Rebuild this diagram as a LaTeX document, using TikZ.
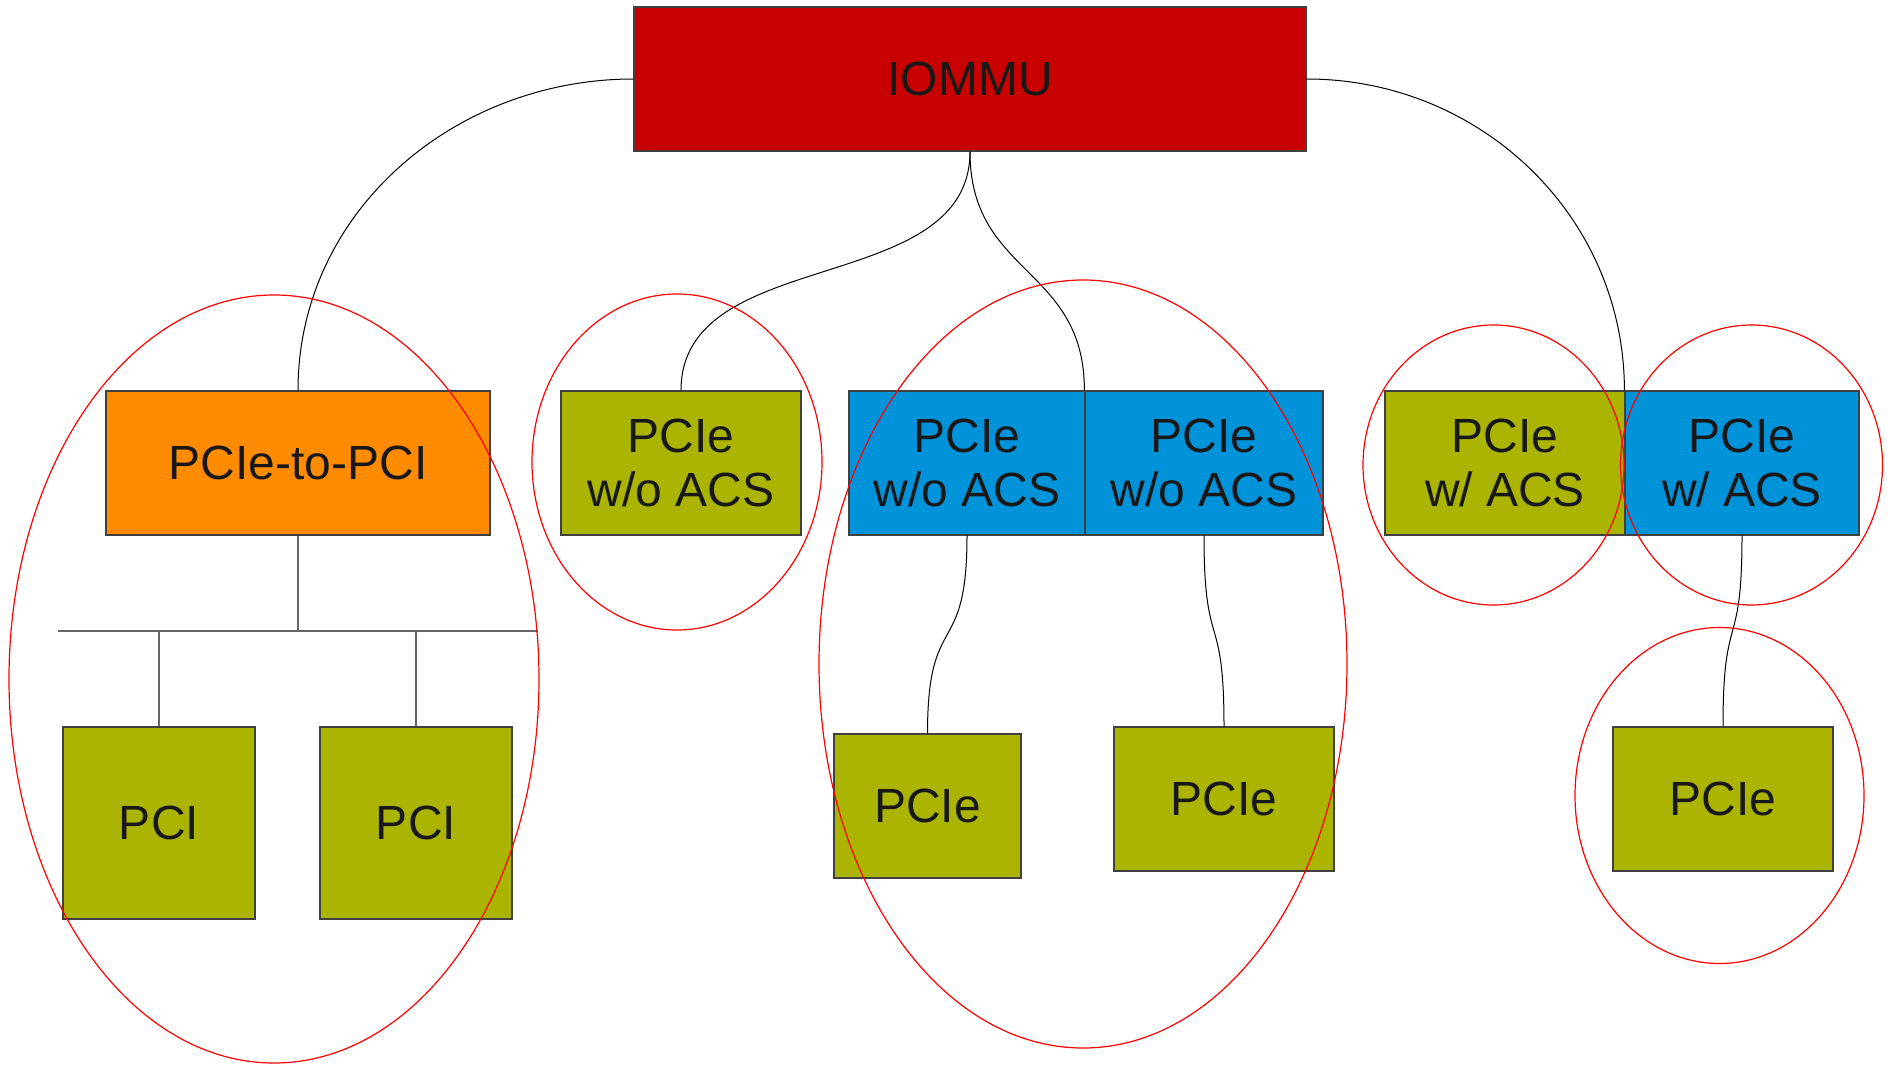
\documentclass[tikz,border=0pt]{standalone}
\usepackage{fontspec}
\setmainfont{Liberation Sans}

\definecolor{iommured}{RGB}{201,0,0}
\definecolor{bridgeorange}{RGB}{255,140,0}
\definecolor{devgreen}{RGB}{171,180,0}
\definecolor{devblue}{RGB}{0,147,217}
\definecolor{labelgray}{RGB}{24,24,24}

\tikzset{every picture/.style={line width=0.75pt}}
\tikzset{
  devbox/.style={draw=black!75, line width=1.2pt, text=labelgray, align=center,
    inner sep=0pt, minimum height=144pt, font=\fontsize{48}{54}\selectfont},
  group/.style={draw=red, line width=1.2pt},
  link/.style={draw=black, line width=1pt},
  bus/.style={draw=black!60, line width=1.5pt}
}

\begin{document}
\begin{tikzpicture}[x=1pt,y=1pt,yscale=-1,xscale=1]
		\useasboundingbox (0,0) rectangle (1890,1065);
		
		%Shape: Rectangle [IOMMU]
		\node [devbox, fill=iommured, minimum width=672pt] (iommu) at (970,79) {IOMMU};
		%Shape: Rectangle [bridge]
		\node [devbox, fill=bridgeorange, minimum width=384pt] (bridge) at (298,463) {PCIe-to-PCI};
		%Shape: Rectangle [root ports]
		\node [devbox, fill=devgreen, minimum width=240pt] (g1) at (681,463) {PCIe\\w/o ACS};
		\node [devbox, fill=devblue, minimum width=236pt] (b1) at (967,463) {PCIe\\w/o ACS};
		\node [devbox, fill=devblue, minimum width=238pt] (b2) at (1204,463) {PCIe\\w/o ACS};
		\node [devbox, fill=devgreen, minimum width=240pt] (g2) at (1505,463) {PCIe\\w/ ACS};
		\node [devbox, fill=devblue, minimum width=234pt] (b3) at (1742,463) {PCIe\\w/ ACS};
		%Shape: Rectangle [endpoints]
		\node [devbox, fill=devgreen, minimum width=192pt, minimum height=192pt] (pci1) at (159,823) {PCI};
		\node [devbox, fill=devgreen, minimum width=192pt, minimum height=192pt] (pci2) at (416,823) {PCI};
		\node [devbox, fill=devgreen, minimum width=187pt] (e1) at (927.5,806) {PCIe};
		\node [devbox, fill=devgreen, minimum width=220pt] (e2) at (1224,799) {PCIe};
		\node [devbox, fill=devgreen, minimum width=220pt] (e3) at (1723,799) {PCIe};
		
		%Straight Lines [PCI bus]
		\coordinate (busL) at (58,631);
		\coordinate (busR) at (538,631);
		\draw [bus] (busL) -- (busR);
		\draw [bus] (bridge.south) -- (bridge.south |- busL);
		\draw [bus] (pci1.north) -- (pci1.north |- busL);
		\draw [bus] (pci2.north) -- (pci2.north |- busL);
		
		%Curve Lines
		\draw [link] (iommu.west) to [out=180,in=-90] (bridge.north);
		\draw [link] (iommu.east) to [out=0,in=-90] (b3.north west);
		\draw [link] (iommu.south) to [out=90,in=-90] (g1.north);
		\draw [link] (iommu.south) to [out=90,in=-90,looseness=1.2] (b2.north west);
		\draw [link] (b1.south) to [out=90,in=-90,looseness=1.6] (e1.north);
		\draw [link] (b2.south) to [out=90,in=-90,looseness=1.6] (e2.north);
		\draw [link] (b3.south) to [out=90,in=-90,looseness=1.6] (e3.north);
		
		%Shape: Ellipse [groups]
		\draw [group] (274,679) ellipse [x radius=265pt, y radius=384pt];
		\draw [group] (677,462) ellipse [x radius=145pt, y radius=168pt];
		\draw [group] (1083,664) ellipse [x radius=264pt, y radius=384pt];
		\draw [group] (1493.5,465) ellipse [x radius=130.5pt, y radius=140pt];
		\draw [group] (1751.5,465) ellipse [x radius=131pt, y radius=140pt];
		\draw [group] (1719.5,795.5) ellipse [x radius=144.5pt, y radius=168pt];
		
	\end{tikzpicture}
\end{document}
